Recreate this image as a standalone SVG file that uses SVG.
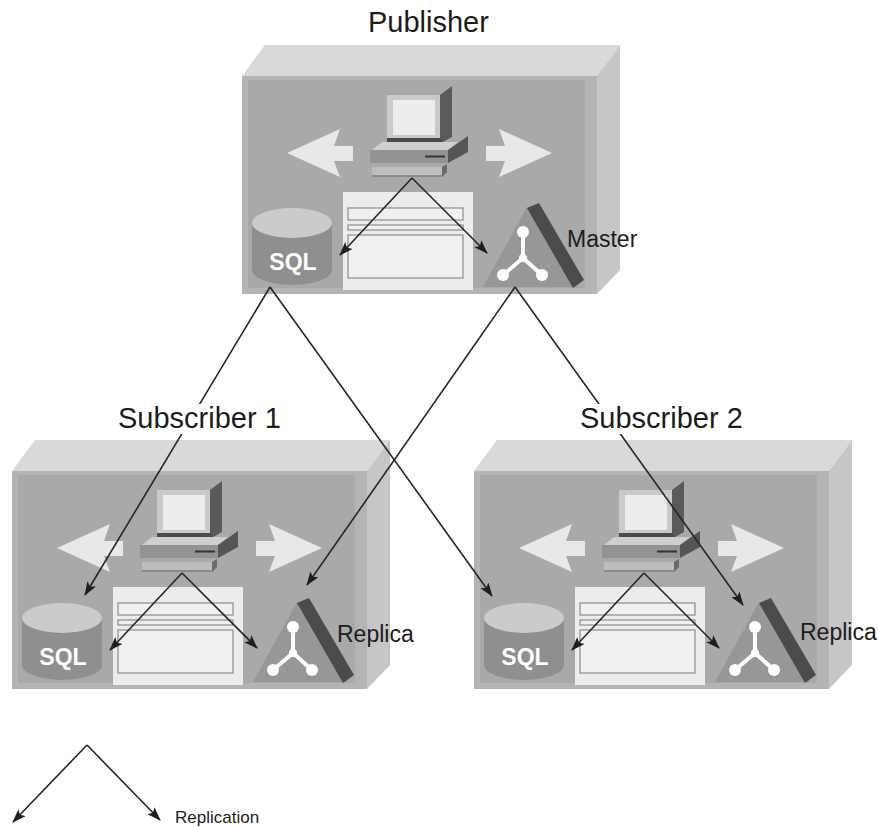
<svg xmlns="http://www.w3.org/2000/svg" xmlns:xlink="http://www.w3.org/1999/xlink" width="878" height="827" viewBox="0 0 878 827">
  <style>
    .top { fill: #d9d9d9; }
    .side { fill: #c6c6c6; }
    .front { fill: #b4b4b4; }
    .panel { fill: #a9a9a9; }
    .flow { fill: #e8e8e8; }
    .wire { fill: none; stroke: #262626; stroke-width: 1.6; }
    .label { font-family: "Liberation Sans", Arial, sans-serif; fill: #1c1c1c; }
    .sql { font-family: "Liberation Sans", Arial, sans-serif; font-weight: bold; font-size: 23px; fill: #ffffff; text-anchor: middle; }
    .form { fill: #f0f0f0; stroke: #8c8c8c; stroke-width: 1.2; }
    .node-link { stroke: #ffffff; stroke-width: 4; }
  </style>
  <defs>
    <marker id="head" markerUnits="userSpaceOnUse" markerWidth="14" markerHeight="10" refX="13" refY="5" orient="auto">
      <path d="M0,0 L14,5 L0,10 L3,5 z" fill="#1e1e1e"/>
    </marker>

    <!-- one server unit: cabinet, workstation, form, SQL store and replication icon -->
    <g id="unit">
      <polygon class="top" points="0,0 23,-31 378,-31 355,0"/>
      <polygon class="side" points="355,0 378,-31 378,194 355,218"/>
      <rect class="front" x="0" y="0" width="355" height="218"/>
      <rect class="panel" x="6" y="4" width="337" height="208"/>

      <!-- two-way flow arrows -->
      <polygon class="flow" points="45,77 98,53 92,70 111,70 111,85 92,85 98,101"/>
      <polygon class="flow" points="310,77 257,53 263,70 244,70 244,85 263,85 257,101"/>

      <!-- workstation -->
      <polygon points="130,74 140,66 216,66 206,74" fill="#cfcfcf"/>
      <rect x="145" y="19" width="54" height="44" fill="#c9c9c9"/>
      <rect x="151" y="24" width="42" height="35" fill="#ececec"/>
      <rect x="145" y="62" width="56" height="4" fill="#4a4a4a"/>
      <polygon points="198,19 210,10 210,61 201,66 198,62" fill="#5a5a5a"/>
      <rect x="128" y="74" width="78" height="13" fill="#939393"/>
      <line x1="183" y1="80.5" x2="203" y2="80.5" stroke="#333" stroke-width="2"/>
      <polygon points="206,74 226,60 226,76 206,87" fill="#555555"/>
      <rect x="130" y="91" width="70" height="9" fill="#bdbdbd"/>
      <rect x="130" y="99" width="70" height="2" fill="#8a8a8a"/>
      <polygon points="200,91 205,88 205,96 200,101" fill="#6a6a6a"/>

      <!-- form window -->
      <rect x="101" y="116" width="130" height="98" fill="#ececec"/>
      <rect class="form" x="106" y="132" width="115" height="12"/>
      <rect class="form" x="106" y="149" width="115" height="5"/>
      <rect class="form" x="106" y="159" width="115" height="43"/>

      <!-- SQL store -->
      <path d="M10,147 V194 A40,15 0 0 0 90,194 V147 Z" fill="#8f8f8f"/>
      <ellipse cx="50" cy="147" rx="40" ry="15" fill="#cbcbcb"/>
      <text class="sql" x="51" y="194">SQL</text>

      <!-- replication icon -->
      <polygon points="241,211 285,131 336,211" fill="#979797"/>
      <polygon points="285,132 297,127 342,204 331,212" fill="#4b4b4b"/>
      <line class="node-link" x1="281" y1="182" x2="281" y2="156"/>
      <line class="node-link" x1="281" y1="182" x2="261" y2="199"/>
      <line class="node-link" x1="281" y1="182" x2="300" y2="199"/>
      <g fill="#ffffff">
        <circle cx="281" cy="156" r="6"/>
        <circle cx="261" cy="199" r="6"/>
        <circle cx="300" cy="199" r="6"/>
        <circle cx="281" cy="182" r="4"/>
      </g>

      <!-- local fan-out from the workstation -->
      <path class="wire" d="M170,102 L98,179" marker-end="url(#head)"/>
      <path class="wire" d="M170,102 L245,177" marker-end="url(#head)"/>
    </g>
  </defs>

  <rect width="878" height="827" fill="#ffffff"/>

  <g id="publisher">
    <use xlink:href="#unit" href="#unit" x="242" y="76"/>
    <text class="label" x="567" y="247" font-size="23">Master</text>
  </g>

  <g id="subscriber-1">
    <use xlink:href="#unit" href="#unit" x="12" y="471"/>
    <text class="label" x="337" y="642" font-size="23">Replica</text>
  </g>

  <g id="subscriber-2">
    <use xlink:href="#unit" href="#unit" x="474" y="471"/>
    <text class="label" x="800" y="640" font-size="23">Replica</text>
  </g>

  <!-- replication links -->
  <g id="connectors">
    <path class="wire" d="M270,287 L85,595" marker-end="url(#head)"/>
    <path class="wire" d="M270,287 L492,596" marker-end="url(#head)"/>
    <path class="wire" d="M515,287 L307,585" marker-end="url(#head)"/>
    <path class="wire" d="M515,287 L743,605" marker-end="url(#head)"/>
  </g>

  <!-- site titles -->
  <g id="titles">
    <text class="label" x="368" y="32" font-size="29">Publisher</text>
    <rect x="113" y="404" width="174" height="30" fill="#ffffff"/>
    <text class="label" x="118" y="428" font-size="29">Subscriber 1</text>
    <rect x="575" y="404" width="174" height="30" fill="#ffffff"/>
    <text class="label" x="580" y="428" font-size="29">Subscriber 2</text>
  </g>

  <!-- legend -->
  <g id="legend">
    <path class="wire" d="M87,745 L13,822" marker-end="url(#head)"/>
    <path class="wire" d="M87,745 L160,820" marker-end="url(#head)"/>
    <text class="label" x="175" y="823" font-size="17">Replication</text>
  </g>
</svg>
